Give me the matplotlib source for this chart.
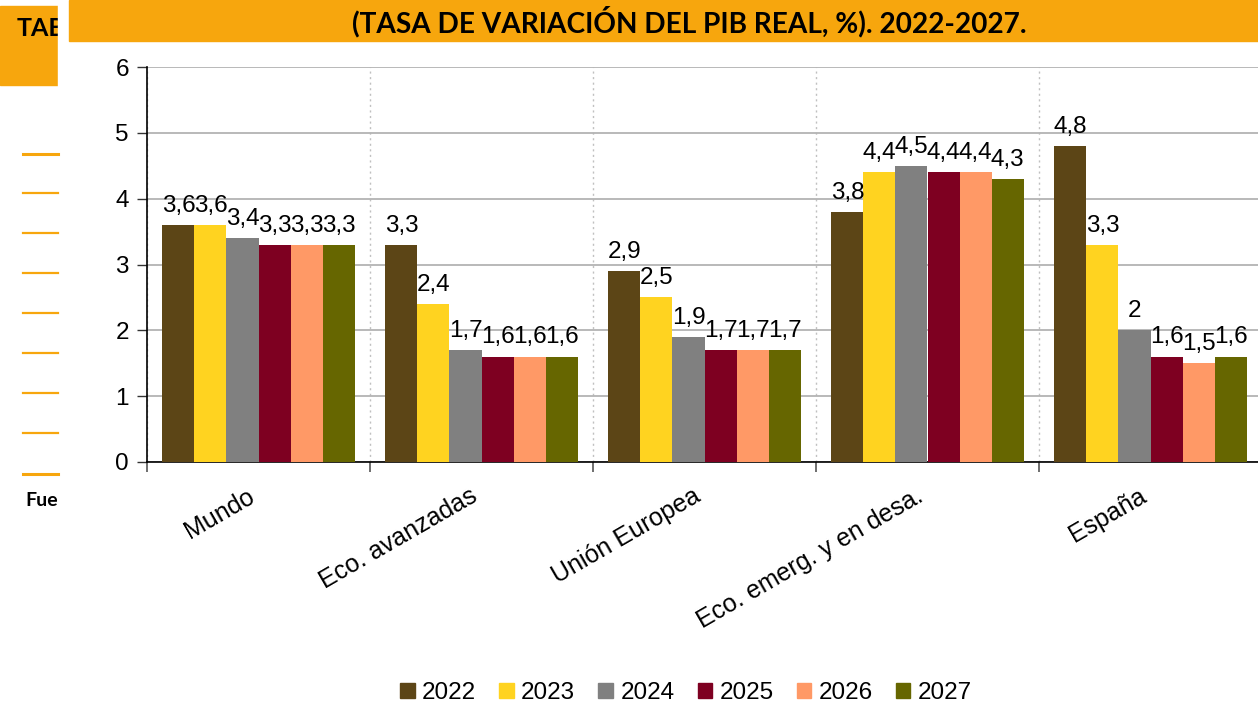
import matplotlib
matplotlib.use("Agg")
import matplotlib.pyplot as plt
import numpy as np
from matplotlib.patches import Rectangle
from matplotlib.lines import Line2D

# data
categories = ["Mundo", "Eco. avanzadas", "Unión Europea", "Eco. emerg. y en desa.", "España"]
years = ["2022", "2023", "2024", "2025", "2026", "2027"]
v2022 = [3.6, 3.3, 2.9, 3.8, 4.8]
v2023 = [3.6, 2.4, 2.5, 4.4, 3.3]
v2024 = [3.4, 1.7, 1.9, 4.5, 2.0]
v2025 = [3.3, 1.6, 1.7, 4.4, 1.6]
v2026 = [3.3, 1.6, 1.7, 4.4, 1.5]
v2027 = [3.3, 1.6, 1.7, 4.3, 1.6]
series = [v2022, v2023, v2024, v2025, v2026, v2027]
colors = ["#5C4516", "#FFD320", "#808080", "#7E0021", "#FF9966", "#666600"]

title = "(TASA DE VARIACIÓN DEL PIB REAL, %). 2022-2027."
orange = "#F7A60D"

plt.rcParams["font.family"] = ["Liberation Sans", "DejaVu Sans"]

W, H = 1258, 706
fig = plt.figure(figsize=(W / 100, H / 100), dpi=100)


def px(x):
    return x / W


def py(y):
    return 1 - y / H


# axes placed in pixel terms (right edge runs past the figure)
ax = fig.add_axes([px(147), py(462), px(1115), 395 / H])

x = np.arange(len(categories))
bw = 0.1435
for i, (vals, col, yr) in enumerate(zip(series, colors, years)):
    pos = x + (i - 2.5) * bw
    ax.bar(pos, vals, width=bw, color=col, label=yr, zorder=3)
    for xp, v in zip(pos, vals):
        txt = f"{v:g}".replace(".", ",")
        ax.annotate(txt, (xp, v), xytext=(0, 9.5), textcoords="offset points",
                    ha="center", va="baseline", fontsize=17.5, color="black", zorder=4)

ax.set_xlim(-0.5, len(categories) - 0.5)
ax.set_ylim(0, 6)
ax.set_yticks(range(0, 7))
ax.tick_params(axis="y", labelsize=17.5, length=7, width=1, color="#333333", pad=6)

ax.set_xticks(x)
ax.set_xticklabels(categories, rotation=30, ha="right", fontsize=18)
ax.tick_params(axis="x", which="major", length=0, pad=16)
ax.set_xticks(np.arange(-0.5, len(categories)), minor=True)
ax.tick_params(axis="x", which="minor", length=7, width=1.2, color="#555555")

ax.grid(axis="y", color="#b3b3b3", linewidth=1.3, zorder=0)
ax.grid(axis="x", which="minor", color="#c0c0c0", linestyle=(0, (1.5, 2.5)), linewidth=1, zorder=0)
ax.grid(axis="x", which="major", visible=False)

for s in ["top", "right"]:
    ax.spines[s].set_visible(False)
ax.spines["left"].set_color("black")
ax.spines["bottom"].set_color("black")
ax.spines["left"].set_linewidth(1.2)
ax.spines["bottom"].set_linewidth(1.2)
ax.set_axisbelow(True)

# legend below
handles = [Rectangle((0, 0), 1, 1, color=c) for c in colors]
fig.legend(handles, years, loc="center", bbox_to_anchor=(px(686), py(693)), ncol=6,
           frameon=False, fontsize=17.5, handlelength=0.6, handleheight=0.6,
           handletextpad=0.3, columnspacing=0.95, borderaxespad=0)

# page decorations around the chart
fig.patches.append(Rectangle((0, py(85)), px(58), 79 / H, transform=fig.transFigure,
                             color=orange, zorder=1))
fig.text(px(17), py(29), "TABLA", fontsize=18, fontweight="bold", family="Lato",
         va="center", ha="left", zorder=2)
fig.patches.append(Rectangle((px(58), py(88)), px(11), 88 / H, transform=fig.transFigure,
                             color="white", zorder=3))
fig.patches.append(Rectangle((px(69), py(41)), px(W - 69), 41 / H, transform=fig.transFigure,
                             color=orange, zorder=4))
fig.text(px(689), py(22), title, fontsize=20.2, fontweight="bold", family="Lato",
         va="center", ha="center", zorder=5)

for yy in [154, 193, 233, 273, 313, 353, 393, 433, 474]:
    lw = 2.2 if yy in (154, 474) else 1.6
    fig.lines.append(Line2D([px(23), px(58)], [py(yy), py(yy)], transform=fig.transFigure,
                            color=orange, linewidth=lw))
fig.text(px(25), py(500), "Fuente", fontsize=14, fontweight="bold", family="Lato",
         va="center", ha="left", zorder=2)
fig.patches.append(Rectangle((px(58), py(520)), px(80), 40 / H, transform=fig.transFigure,
                             color="white", zorder=3))

fig.savefig("out.png", dpi=100)
